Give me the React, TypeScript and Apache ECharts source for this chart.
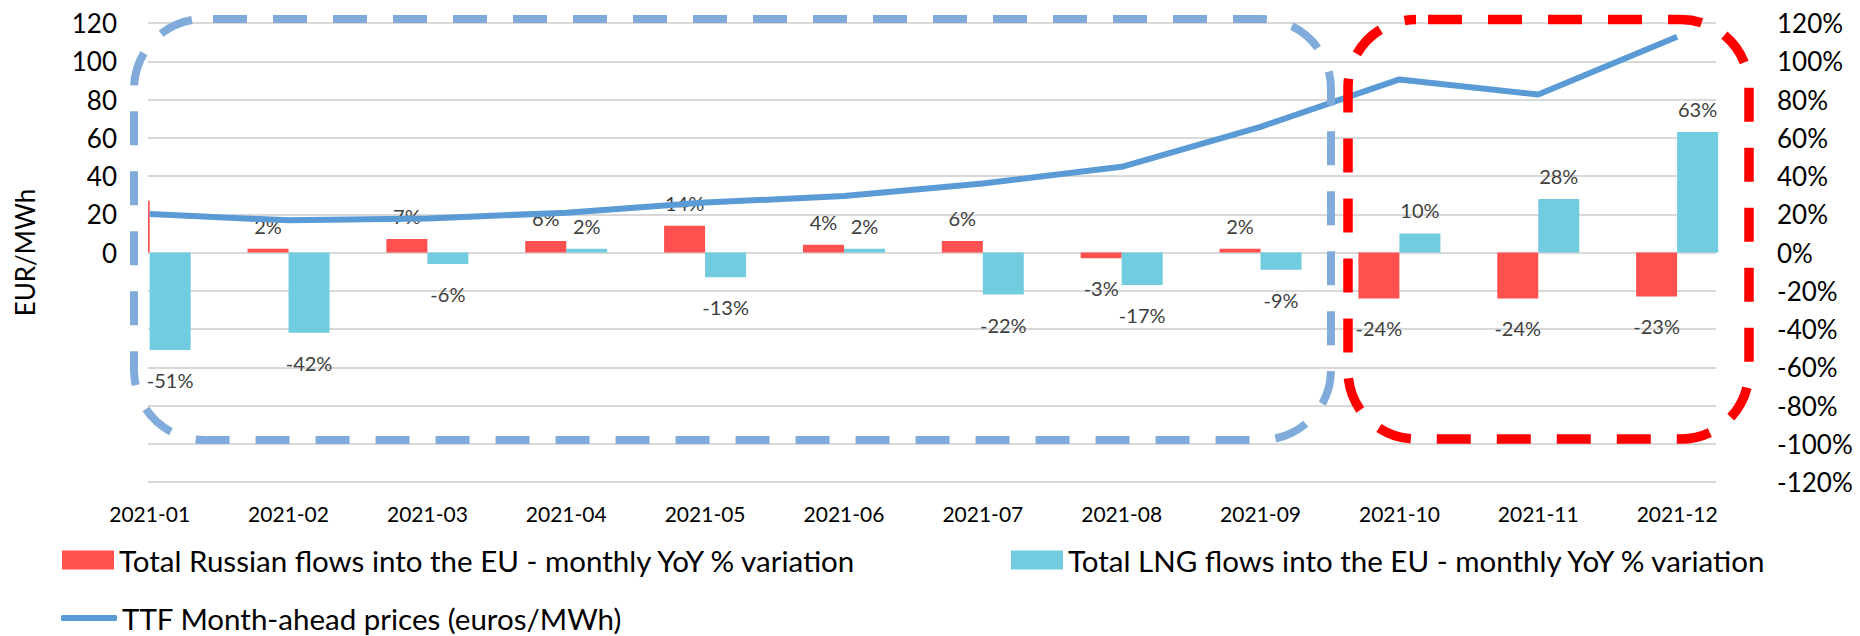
import React, { useEffect, useRef } from 'react';
import * as echarts from 'echarts';

const months = ['2021-01', '2021-02', '2021-03', '2021-04', '2021-05', '2021-06', '2021-07', '2021-08', '2021-09', '2021-10', '2021-11', '2021-12'];
const russianYoY = [27, 2, 7, 6, 14, 4, 6, -3, 2, -24, -24, -23];
const lngYoY = [-51, -42, -6, 2, -13, 2, -22, -17, -9, 10, 28, 63];
const ttfPrice = [20.1, 16.8, 17.8, 20.8, 26.1, 29.5, 36.1, 44.8, 65.7, 90.5, 82.6, 112.8];

const russianName = 'Total Russian flows into the EU - monthly YoY % variation';
const lngName = 'Total LNG flows into the EU - monthly YoY % variation';
const ttfName = 'TTF Month-ahead prices (euros/MWh)';

const FONT = 'Lato, "Noto Sans", sans-serif';
const RED = '#FF5050';
const CYAN = '#72CCE0';
const LINE = '#5B9BD5';

function barData(values: number[], hideFirst: boolean) {
  return values.map((v, i) => {
    const item: any = {
      value: [i, v],
      label: { distance: v >= 0 ? 13 : 20 },
    };
    if (hideFirst && i === 0) item.label = { show: false };
    return item;
  });
}

export default function App() {
  const ref = useRef<HTMLDivElement>(null);

  useEffect(() => {
    if (!ref.current) return;
    const chart = echarts.init(ref.current, null, { renderer: 'svg' });
    const barLabel = {
      show: true,
      position: 'outside',
      formatter: (p: any) => `${p.value[1]}%`,
      color: '#404040',
      fontSize: 20,
      fontFamily: FONT,
    };
    const legendText = { fontSize: 29.5, color: '#000', fontFamily: FONT };
    const GRID_LEFT = 148;
    chart.setOption({
      animation: false,
      backgroundColor: '#ffffff',
      textStyle: { fontFamily: FONT },
      grid: { left: GRID_LEFT, right: 144, top: 23, height: 459, containLabel: false },
      legend: [
        {
          left: 57, top: 540, itemWidth: 52, itemHeight: 19, itemGap: 10,
          data: [{ name: russianName, icon: 'rect' }],
          textStyle: legendText,
          selectedMode: false,
        },
        {
          left: 1006, top: 540, itemWidth: 52, itemHeight: 19,
          data: [{ name: lngName, icon: 'rect' }],
          textStyle: legendText,
          selectedMode: false,
        },
        {
          left: 56, top: 598, itemWidth: 56, itemHeight: 6,
          data: [{ name: ttfName, icon: 'roundRect' }],
          textStyle: legendText,
          selectedMode: false,
        },
      ],
      xAxis: {
        type: 'value',
        min: -0.012,
        max: 11.28,
        axisLine: { show: false, onZero: false },
        axisTick: { show: false },
        splitLine: { show: false },
        axisLabel: {
          customValues: months.map((_, i) => i),
          formatter: (v: number) => months[Math.round(v)] ?? '',
          fontSize: 21,
          color: '#000',
          margin: 21,
          fontFamily: FONT,
        },
      },
      yAxis: [
        {
          // grid lines only (drawn beneath the bars)
          type: 'value',
          min: -120,
          max: 120,
          interval: 20,
          axisLine: { show: false, onZero: false },
          axisTick: { show: false },
          splitLine: { show: true, lineStyle: { color: '#D9D9D9', width: 2 } },
          axisLabel: { show: false },
        },
        {
          type: 'value',
          min: -120,
          max: 120,
          interval: 20,
          position: 'right',
          axisLine: { show: false, onZero: false },
          axisTick: { show: false },
          splitLine: { show: false },
          axisLabel: {
            formatter: '{value}%',
            fontSize: 26,
            color: '#000',
            margin: 61,
            fontFamily: FONT,
          },
        },
        {
          // left value labels and title, drawn above everything else
          type: 'value',
          min: -120,
          max: 120,
          interval: 20,
          position: 'left',
          z: 10,
          name: 'EUR/MWh',
          nameLocation: 'middle',
          nameRotate: 90,
          nameGap: 110,
          nameTextStyle: { fontSize: 26, color: '#000', fontFamily: FONT },
          axisLine: { show: false, onZero: false },
          axisTick: { show: false },
          splitLine: { show: false },
          axisLabel: {
            formatter: (v: number) => (v >= 0 ? String(v) : ''),
            fontSize: 26,
            color: '#000',
            margin: 31,
            fontFamily: FONT,
          },
        },
      ],
      series: [
        {
          name: russianName,
          type: 'bar',
          yAxisIndex: 1,
          barWidth: 41,
          barGap: '0%',
          itemStyle: { color: RED },
          label: barLabel,
          data: barData(russianYoY, true),
        },
        {
          name: lngName,
          type: 'bar',
          yAxisIndex: 1,
          barWidth: 41,
          barGap: '0%',
          itemStyle: { color: CYAN },
          label: barLabel,
          data: barData(lngYoY, false),
        },
        {
          name: ttfName,
          type: 'line',
          yAxisIndex: 2,
          symbol: 'none',
          lineStyle: { color: LINE, width: 6 },
          itemStyle: { color: LINE },
          data: ttfPrice.map((v, i) => [i, v]),
          z: 3,
        },
      ],
      graphic: [
        {
          // hides the part of the first bar that falls left of the plot area
          type: 'rect',
          z: 5,
          shape: { x: 60, y: 0, width: GRID_LEFT - 60, height: 500 },
          style: { fill: '#ffffff' },
          silent: true,
        },
        {
          type: 'rect',
          z: 100,
          shape: { x: 134, y: 19, width: 1197, height: 421, r: 70 },
          style: { fill: 'none', stroke: '#80ABDA', lineWidth: 8, lineDash: [34, 26], lineDashOffset: 51 },
          silent: true,
        },
        {
          type: 'rect',
          z: 100,
          shape: { x: 1348, y: 19.5, width: 401, height: 419.5, r: 68 },
          style: { fill: 'none', stroke: '#FF0000', lineWidth: 9.5, lineDash: [34, 26], lineDashOffset: 48 },
          silent: true,
        },
      ],
    });
    return () => chart.dispose();
  }, []);

  return (
    <div
      ref={ref}
      style={{ position: 'fixed', left: 0, top: 0, width: 1860, height: 636, background: '#fff' }}
    />
  );
}
